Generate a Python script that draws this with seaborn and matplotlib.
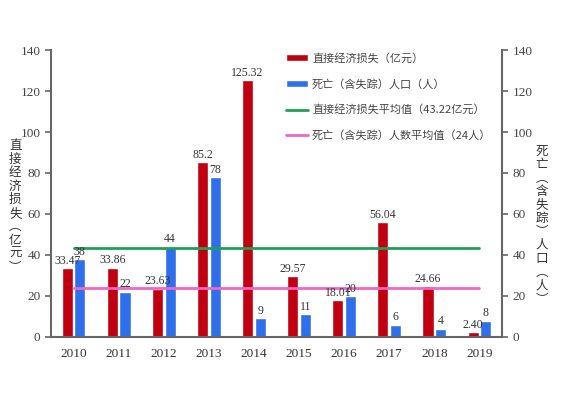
import pandas as pd
import matplotlib.pyplot as plt
import seaborn as sns
from matplotlib.lines import Line2D
from matplotlib.patches import Patch

# data
years = ['2010', '2011', '2012', '2013', '2014', '2015', '2016', '2017', '2018', '2019']
loss = [33.47, 33.86, 23.63, 85.2, 125.32, 29.57, 18.01, 56.04, 24.66, 2.40]
loss_labels = ['33.47', '33.86', '23.63', '85.2', '125.32', '29.57', '18.01', '56.04', '24.66', '2.40']
deaths = [38, 22, 44, 78, 9, 11, 20, 6, 4, 8]
loss_mean = 43.22
deaths_mean = 24

loss_name = '直接经济损失（亿元）'
deaths_name = '死亡（含失踪）人口（人）'
loss_mean_name = '直接经济损失平均值（43.22亿元）'
deaths_mean_name = '死亡（含失踪）人数平均值（24人）'

red = '#C00010'
blue = '#2F6FEB'
green = '#1FA055'
pink = '#F266C8'
grey = '#666666'

sns.set_style('white')
plt.rcParams['font.family'] = ['Liberation Serif', 'Noto Sans CJK SC', 'DejaVu Sans']

df = pd.DataFrame({
    'year': years * 2,
    'value': loss + deaths,
    'series': [loss_name] * len(years) + [deaths_name] * len(years),
})

fig = plt.figure(figsize=(5.63, 4.17), dpi=100)
ax = fig.add_axes([0.0906, 0.192, 0.801, 0.688])

sns.barplot(data=df, x='year', y='value', hue='series', palette=[red, blue],
            width=0.56, gap=0.12, saturation=1, legend=False, ax=ax)

ax.bar_label(ax.containers[0], labels=loss_labels, padding=1, fontsize=8.5, color='#333333')
ax.bar_label(ax.containers[1], labels=[str(v) for v in deaths], padding=1, fontsize=8.5, color='#333333')

# mean lines from first to last category centre
ax.plot([0, len(years) - 1], [loss_mean, loss_mean], color=green, lw=2)
ax.plot([0, len(years) - 1], [deaths_mean, deaths_mean], color=pink, lw=2)

ax.set_xlim(-0.5, len(years) - 0.5)
ax.set_ylim(0, 140)
ax.set_yticks(range(0, 141, 20))
ax.set_xlabel('')
ax.set_ylabel('')

# tick marks between years, none under the labels
ax.set_xticks([i - 0.5 for i in range(len(years) + 1)], minor=True)
ax.tick_params(axis='x', which='major', length=0, labelsize=9.5, pad=8, colors='#333333')
ax.tick_params(axis='x', which='minor', length=4, width=1.2, color=grey, direction='out')
ax.tick_params(axis='y', length=4, width=1.2, color=grey, labelsize=9.5, labelcolor='#444444', direction='out', left=True)

for side in ['top', 'right']:
    ax.spines[side].set_visible(False)
for side in ['left', 'bottom']:
    ax.spines[side].set_color(grey)
    ax.spines[side].set_linewidth(1.5)

ax2 = ax.twinx()
ax2.set_ylim(0, 140)
ax2.set_yticks(range(0, 141, 20))
ax2.tick_params(axis='y', length=4, width=1.2, color=grey, labelsize=9.5, labelcolor='#444444', direction='out', right=True)
for side in ['top', 'left', 'bottom']:
    ax2.spines[side].set_visible(False)
ax2.spines['right'].set_color(grey)
ax2.spines['right'].set_linewidth(1.5)

# vertical stacked axis titles
cjk = ['Noto Sans CJK SC', 'DejaVu Sans']
left_title = '\n'.join('直接经济损失︵亿元︶')
right_title = '\n'.join('死亡︵含失踪︶人口︵人︶')
fig.text(0.027, 0.505, left_title, ha='center', va='center', fontsize=9, color='#333333',
         linespacing=1.05, family=cjk)
fig.text(0.962, 0.46, right_title, ha='center', va='center', fontsize=9, color='#333333',
         linespacing=1.05, family=cjk)

handles = [
    Patch(facecolor=red, label=loss_name),
    Patch(facecolor=blue, label=deaths_name),
    Line2D([], [], color=green, lw=2, label=loss_mean_name),
    Line2D([], [], color=pink, lw=2, label=deaths_mean_name),
]
leg = ax.legend(handles=handles, loc='upper left', bbox_to_anchor=(0.5, 1.025), frameon=False,
                handlelength=1.9, handleheight=0.6, labelspacing=1.35,
                handletextpad=0.4, prop={'family': cjk, 'size': 8})
for t in leg.get_texts():
    t.set_color('#444444')

fig.savefig('out.png', dpi=100)
plt.close(fig)
